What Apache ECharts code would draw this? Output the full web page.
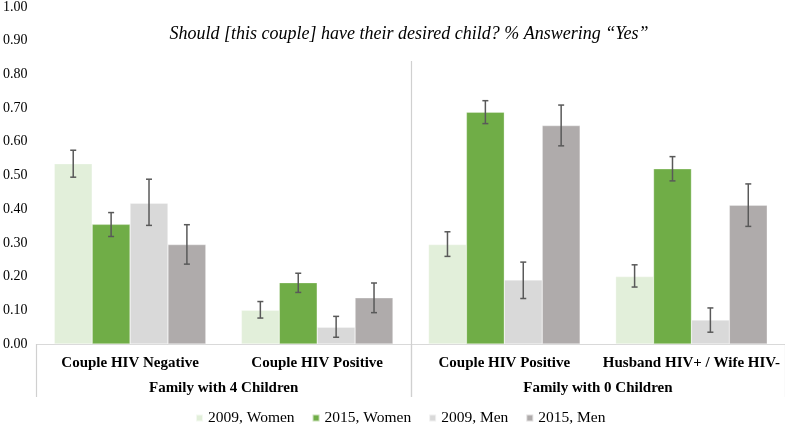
<!DOCTYPE html>
<html>
<head>
<meta charset="utf-8">
<script src="https://cdn.jsdelivr.net/npm/echarts@6/dist/echarts.min.js"></script>
<style>html,body{margin:0;padding:0;background:#fff}#c{width:785px;height:425px}</style>
</head>
<body>
<div id="c"></div>
<script>
const titleText = 'Should [this couple] have their desired child? % Answering \u201cYes\u201d';
const categories = ['Couple HIV Negative', 'Couple HIV Positive', 'Couple HIV Positive', 'Husband HIV+ / Wife HIV-'];
const groups = ['Family with 4 Children', 'Family with 0 Children'];
const seriesNames = ['2009, Women', '2015, Women', '2009, Men', '2015, Men'];
const women2009 = [0.535, 0.100, 0.295, 0.200];
const women2015 = [0.355, 0.182, 0.688, 0.520];
const men2009 = [0.418, 0.050, 0.190, 0.071];
const men2015 = [0.295, 0.137, 0.648, 0.412];
const women2009Low = [0.495, 0.077, 0.260, 0.169];
const women2009High = [0.575, 0.126, 0.333, 0.235];
const women2015Low = [0.319, 0.153, 0.654, 0.484];
const women2015High = [0.390, 0.210, 0.722, 0.556];
const men2009Low = [0.352, 0.020, 0.135, 0.035];
const men2009High = [0.489, 0.082, 0.243, 0.107];
const men2015Low = [0.237, 0.093, 0.588, 0.349];
const men2015High = [0.354, 0.181, 0.709, 0.475];
const yTicks = ['0.00','0.10','0.20','0.30','0.40','0.50','0.60','0.70','0.80','0.90','1.00'];

const values = [women2009, women2015, men2009, men2015];
const lows = [women2009Low, women2015Low, men2009Low, men2015Low];
const highs = [women2009High, women2015High, men2009High, men2015High];
const colors = ['#e2efda', '#70ad47', '#d9d9d9', '#afabab'];
const serif = 'Liberation Serif, Times New Roman, serif';
const GAP = 0.19;

const barSeries = values.map((v, k) => ({
  type: 'bar', name: seriesNames[k], data: v,
  xAxisIndex: 0, yAxisIndex: 0,
  barGap: '0%', barCategoryGap: (GAP * 100) + '%',
  itemStyle: { color: colors[k], borderColor: 'rgba(255,255,255,0.6)', borderWidth: 0.5 },
  emphasis: { disabled: true }
}));

const errSeries = values.map((v, k) => ({
  type: 'custom', name: seriesNames[k] + ' err',
  xAxisIndex: 0, yAxisIndex: 0, z: 5,
  data: v.map((_, i) => [i, lows[k][i], highs[k][i]]),
  encode: { x: 0, y: [1, 2] },
  renderItem: function (params, api) {
    const i = api.value(0);
    const band = api.size([1, 0])[0];
    const bw = band * (1 - GAP) / 4;
    const lo = api.coord([i, api.value(1)]);
    const hi = api.coord([i, api.value(2)]);
    const x = lo[0] + (k - 1.5) * bw;
    const cap = 3;
    const st = { stroke: '#595959', lineWidth: 1.5 };
    return { type: 'group', children: [
      { type: 'line', shape: { x1: x, y1: lo[1], x2: x, y2: hi[1] }, style: st },
      { type: 'line', shape: { x1: x - cap, y1: lo[1], x2: x + cap, y2: lo[1] }, style: st },
      { type: 'line', shape: { x1: x - cap, y1: hi[1], x2: x + cap, y2: hi[1] }, style: st }
    ]};
  },
  tooltip: { show: false }
}));

const divider = {
  type: 'custom', name: 'divider', xAxisIndex: 0, yAxisIndex: 0, z: 1, clip: false,
  data: [[1, 0]],
  renderItem: function (params, api) {
    const cs = params.coordSys;
    const band = api.size([1, 0])[0];
    const x = Math.round(api.coord([1, 0])[0] + band / 2) + 0.5;
    return { type: 'line', shape: { x1: x, y1: cs.y + 54, x2: x, y2: cs.y + cs.height + 53 },
      style: { stroke: '#d0d0d0', lineWidth: 1.2 } };
  }
};

const chart = echarts.init(document.getElementById('c'));
chart.setOption({
  animation: false,
  backgroundColor: '#ffffff',
  title: {
    text: titleText, left: 404, top: 20, textAlign: 'center',
    textStyle: { fontFamily: serif, fontStyle: 'italic', fontWeight: 'normal', fontSize: 18, color: '#000' }
  },
  legend: {
    data: seriesNames, left: 190, top: 405, icon: 'rect', itemWidth: 7, itemHeight: 7, itemGap: 17,
    textStyle: { fontFamily: serif, fontSize: 15.5, color: '#000' }
  },
  grid: { left: 35, right: -2, top: 5, bottom: 81, containLabel: false },
  xAxis: [
    {
      type: 'category', data: categories, position: 'bottom',
      axisLine: { show: true, lineStyle: { color: '#d9d9d9', width: 1.2 } },
      axisTick: { show: false },
      axisLabel: { interval: 0, margin: 12, fontFamily: serif, fontWeight: 'bold', fontSize: 15, color: '#000' },
      splitLine: { show: false }
    },
    {
      type: 'category', data: groups, position: 'bottom', offset: 0,
      axisLine: { show: false },
      axisTick: { show: true, length: 53, lineStyle: { color: '#d0d0d0', width: 1.2 } },
      axisLabel: { interval: 0, margin: 37, fontFamily: serif, fontWeight: 'bold', fontSize: 15, color: '#000' },
      splitLine: { show: false }
    }
  ],
  yAxis: {
    type: 'value', min: 0, max: 1, interval: 0.1,
    axisLine: { show: false }, axisTick: { show: false }, splitLine: { show: false },
    axisLabel: {
      margin: 9, fontFamily: serif, fontSize: 14, color: '#000',
      formatter: function (v) { return yTicks[Math.round(v * 10)]; }
    }
  },
  series: [...barSeries, ...errSeries, divider]
});
</script>
</body>
</html>
